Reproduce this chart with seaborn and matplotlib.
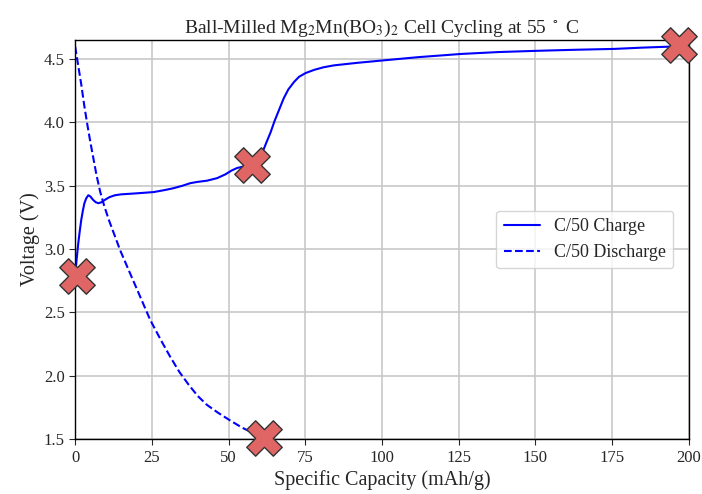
import matplotlib
matplotlib.use("Agg")
import matplotlib.pyplot as plt
import seaborn as sns
import pandas as pd

# Charge curve (C/50)
charge_cap = [0.0, 0.5, 1.0, 1.5, 2.0, 2.5, 3.0, 3.6, 4.3, 5.0, 5.8, 6.7, 7.6, 8.6, 9.8, 11.2, 13.0,
              15.0, 20.0, 25.6, 29.0, 32.0, 35.0, 37.5, 39.8, 43.0, 46.3, 49.0, 51.0, 52.8, 55.5,
              57.8, 59.5, 60.5, 61.5, 62.5, 63.7, 65.0, 66.5, 68.0, 69.5, 71.4, 73.0, 75.2, 78.0,
              81.0, 84.4, 92.0, 100.8, 112.0, 125.8, 138.0, 150.9, 163.0, 175.9, 185.0, 196.5]
charge_v = [2.79, 2.92, 3.04, 3.14, 3.23, 3.30, 3.36, 3.40, 3.425, 3.415, 3.39, 3.37, 3.362, 3.37, 3.39, 3.41, 3.425,
            3.432, 3.44, 3.45, 3.465, 3.48, 3.50, 3.52, 3.53, 3.54, 3.56, 3.59, 3.62, 3.64, 3.655,
            3.67, 3.70, 3.74, 3.79, 3.85, 3.92, 4.01, 4.10, 4.19, 4.26, 4.32, 4.36, 4.39, 4.415,
            4.435, 4.45, 4.47, 4.49, 4.515, 4.54, 4.555, 4.565, 4.573, 4.58, 4.59, 4.60]

# Discharge curve (C/50)
dis_cap = [0.0, 1.0, 2.0, 3.0, 4.0, 5.0, 6.0, 7.0, 8.2, 9.5, 11.0, 13.0, 14.7, 17.0, 19.5, 22.0, 24.5,
           28.0, 31.0, 34.0, 37.0, 40.0, 43.0, 46.5, 50.7, 54.5, 58.3, 60.5]
dis_v = [4.60, 4.45, 4.30, 4.13, 3.98, 3.84, 3.71, 3.58, 3.45, 3.34, 3.23, 3.10, 2.99, 2.86, 2.72, 2.58, 2.44,
         2.28, 2.15, 2.03, 1.93, 1.84, 1.77, 1.71, 1.645, 1.59, 1.545, 1.52]

# Marked points
mark_cap = [0.5, 57.8, 61.5, 196.7]
mark_v = [2.79, 3.66, 1.51, 4.61]

sns.set_style("ticks")
plt.rcParams["font.family"] = ["Liberation Serif", "DejaVu Serif"]
plt.rcParams["mathtext.fontset"] = "stix"

fig = plt.figure(figsize=(7.02, 4.94), dpi=100)
ax = fig.add_axes([0.107, 0.111, 0.874, 0.808])

df_c = pd.DataFrame({"cap": charge_cap, "v": charge_v})
df_d = pd.DataFrame({"cap": dis_cap, "v": dis_v})
df_m = pd.DataFrame({"cap": mark_cap, "v": mark_v})

sns.lineplot(data=df_c, x="cap", y="v", sort=False, color="blue", linewidth=1.5,
             label="C/50 Charge", ax=ax)
sns.lineplot(data=df_d, x="cap", y="v", sort=False, color="blue", linewidth=1.5,
             linestyle="--", label="C/50 Discharge", ax=ax)
sns.scatterplot(data=df_m, x="cap", y="v", marker="X", s=650, color="#E06666",
                edgecolor="#333333", linewidth=1.0, ax=ax, zorder=5, clip_on=False, legend=False)

ax.set_xlim(0, 200)
ax.set_ylim(1.5, 4.65)
ax.set_xticks([0, 25, 50, 75, 100, 125, 150, 175, 200])
ax.set_yticks([1.5, 2.0, 2.5, 3.0, 3.5, 4.0, 4.5])
ax.grid(True, color="#c8c8c8", linewidth=1.2)
ax.set_axisbelow(True)
for s in ax.spines.values():
    s.set_visible(True)
    s.set_color("black")
    s.set_linewidth(1.0)
ax.tick_params(labelsize=12, direction="out", length=4)

ax.set_xlabel("Specific Capacity (mAh/g)", fontsize=14.5, labelpad=3)
ax.set_ylabel("Voltage (V)", fontsize=14.5, labelpad=3)
ax.set_title(r"Ball-Milled Mg$_2$Mn(BO$_3$)$_2$ Cell Cycling at 55 $^\circ$ C", fontsize=14, pad=5)
leg = ax.legend(loc="center right", fontsize=13, frameon=True, framealpha=0.8,
                bbox_to_anchor=(0.99, 0.5))

fig.savefig("out.png", dpi=100)
